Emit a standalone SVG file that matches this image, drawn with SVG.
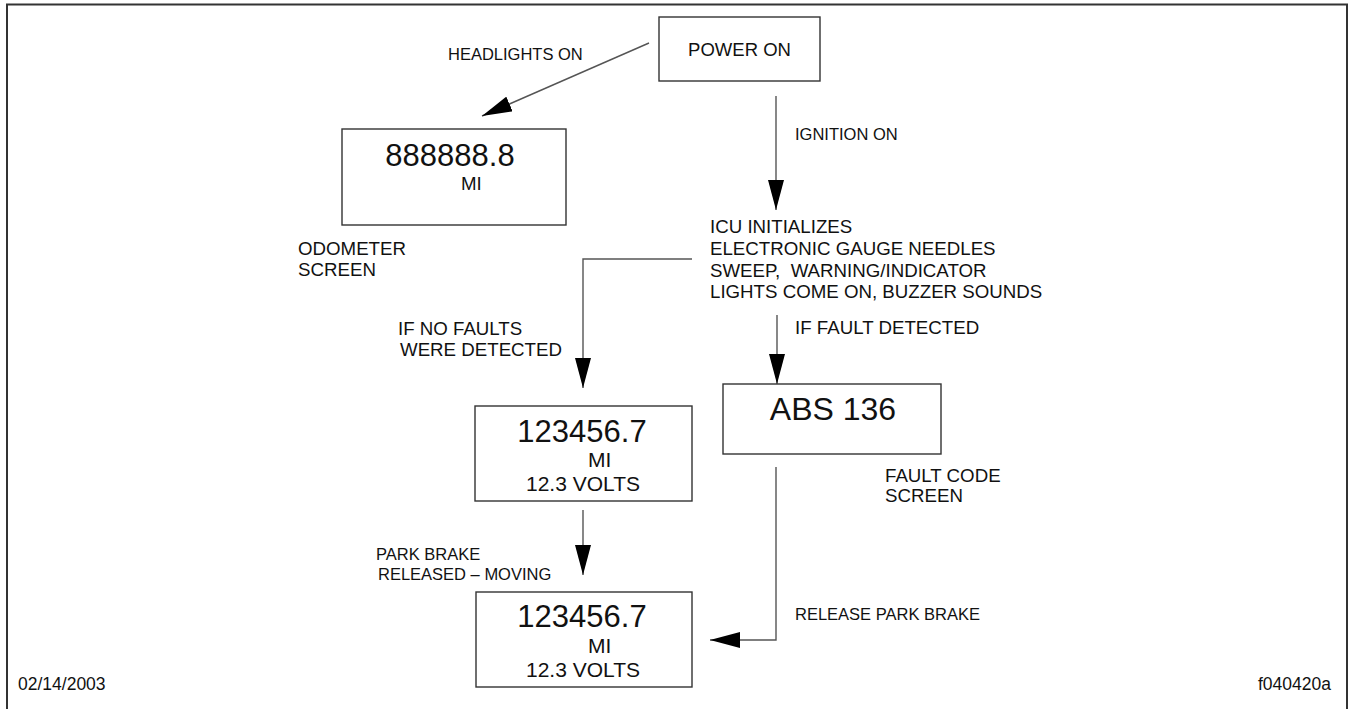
<svg xmlns="http://www.w3.org/2000/svg" width="1351" height="709" viewBox="0 0 1351 709">
<defs>
<marker id="ah" markerUnits="userSpaceOnUse" markerWidth="30" markerHeight="16" refX="30" refY="8" orient="auto">
<path d="M0,0 L30,8 L0,16 z" fill="#000"/>
</marker>
<style>
text{font-family:"Liberation Sans",Arial,sans-serif;fill:#111}
.box{fill:#fff;stroke:#333;stroke-width:1.4}
.conn{fill:none;stroke:#555;stroke-width:1.4}
.lbl{font-size:16.5px}
.txt{font-size:18.7px}
.big{font-size:31px}
.mid{font-size:21px}
</style>
</defs>
<rect x="0" y="0" width="1351" height="709" fill="#fff"/>
<rect x="7" y="4.5" width="1340" height="720" fill="none" stroke="#333" stroke-width="2"/>

<g id="connectors">
<path class="conn" d="M649,43 L482,116" marker-end="url(#ah)"/>
<path class="conn" d="M776,96 V210" marker-end="url(#ah)"/>
<path class="conn" d="M692,259 H583 V388" marker-end="url(#ah)"/>
<path class="conn" d="M777,315 V384" marker-end="url(#ah)"/>
<path class="conn" d="M583,510 V575" marker-end="url(#ah)"/>
<path class="conn" d="M776,467 V640 H710" marker-end="url(#ah)"/>
</g>

<g id="labels">
<text class="lbl" x="448" y="60">HEADLIGHTS ON</text>
<text class="lbl" x="795" y="140">IGNITION ON</text>
<text class="txt" x="398" y="335">IF NO FAULTS</text>
<text class="txt" x="400" y="356">WERE DETECTED</text>
<text class="txt" x="795" y="334">IF FAULT DETECTED</text>
<text class="lbl" x="376" y="560">PARK BRAKE</text>
<text class="lbl" x="378" y="580">RELEASED – MOVING</text>
<text class="lbl" x="795" y="620">RELEASE PARK BRAKE</text>
<text class="txt" x="298" y="255">ODOMETER</text>
<text class="txt" x="298" y="276">SCREEN</text>
<text class="txt" x="885" y="482">FAULT CODE</text>
<text class="txt" x="885" y="502">SCREEN</text>
<text style="font-size:17.5px" x="18" y="690">02/14/2003</text>
<text style="font-size:17.5px" x="1331" y="690" text-anchor="end">f040420a</text>
</g>

<g id="power-on">
<rect class="box" x="659" y="17" width="161" height="64"/>
<text x="739.5" y="56" text-anchor="middle" style="font-size:18.5px">POWER ON</text>
</g>

<g id="odometer-screen">
<rect class="box" x="342" y="129" width="224" height="96"/>
<text class="big" x="450" y="166" text-anchor="middle">888888.8</text>
<text x="461" y="190" style="font-size:18.7px">MI</text>
</g>

<g id="icu-initializes">
<text class="txt" x="710" y="233">ICU INITIALIZES</text>
<text class="txt" x="710" y="255">ELECTRONIC GAUGE NEEDLES</text>
<text class="txt" x="710" y="277" xml:space="preserve">SWEEP,  WARNING/INDICATOR</text>
<text class="txt" x="710" y="298">LIGHTS COME ON, BUZZER SOUNDS</text>
</g>

<g id="volts-screen">
<rect class="box" x="475" y="406" width="217" height="95"/>
<text class="big" x="582" y="442" text-anchor="middle">123456.7</text>
<text class="mid" x="588" y="467">MI</text>
<text class="mid" x="583" y="491" text-anchor="middle">12.3 VOLTS</text>
</g>

<g id="fault-code-screen">
<rect class="box" x="723" y="384" width="218" height="70"/>
<text x="833" y="420" text-anchor="middle" style="font-size:32px">ABS 136</text>
</g>

<g id="moving-screen">
<rect class="box" x="476" y="592" width="216" height="95"/>
<text class="big" x="582" y="627" text-anchor="middle">123456.7</text>
<text class="mid" x="588" y="653">MI</text>
<text class="mid" x="583" y="677" text-anchor="middle">12.3 VOLTS</text>
</g>
</svg>
